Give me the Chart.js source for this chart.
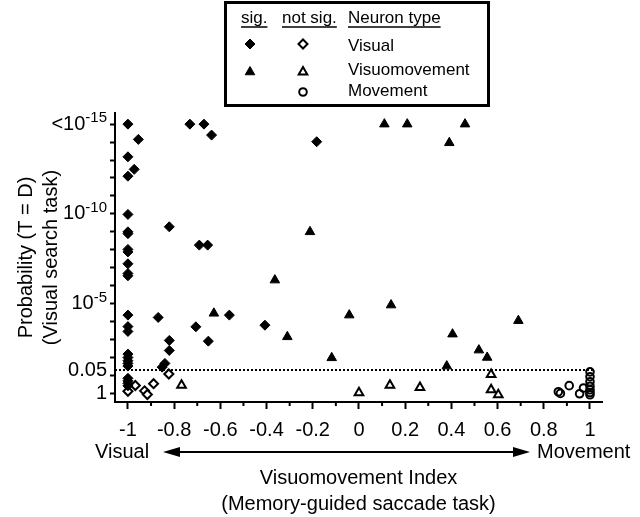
<!DOCTYPE html>
<html>
<head>
<meta charset="utf-8">
<script src="https://cdn.jsdelivr.net/npm/chart.js@4.4.0/dist/chart.umd.min.js"></script>
<style>
  body { margin: 0; background: #fff; }
</style>
</head>
<body>
<canvas id="mycanvas" width="640" height="517"></canvas>
<script>
// y values are -log10(p), capped at 15 (<10^-15)
var visualSig = [
  [-1, 15], [-1, 13.18], [-1, 12.1], [-1, 9.97], [-1, 9.0], [-1, 8.9], [-1, 8.02], [-1, 7.88],
  [-1, 7.22], [-1, 6.68], [-1, 6.55], [-1, 4.36], [-1, 3.72], [-1, 3.45], [-1, 2.19], [-1, 2.0],
  [-1, 1.82], [-1, 1.67], [-1, 1.52], [-1, 0.84], [-1, 0.7], [-1, 0.56], [-1, 0.42],
  [-0.955, 14.15], [-0.973, 12.48], [-0.821, 9.28], [-0.732, 15], [-0.671, 15], [-0.638, 14.39],
  [-0.691, 8.26], [-0.655, 8.26], [-0.183, 14.02], [-0.869, 4.23], [-0.821, 2.95], [-0.821, 2.39],
  [-0.84, 1.67], [-0.852, 1.46], [-0.706, 3.71], [-0.652, 2.91], [-0.561, 4.36], [-0.407, 3.8]
];
var visualNotSig = [[-1, 0.12], [-0.968, 0.44], [-0.928, 0.14], [-0.916, -0.06], [-0.889, 0.54], [-0.823, 1.08]];
var vmSig = [
  [0.11, 15], [0.209, 15], [0.459, 15], [0.391, 13.96], [-0.212, 9.0], [-0.628, 4.46], [-0.364, 6.31],
  [-0.31, 3.15], [-0.118, 1.98], [-0.042, 4.36], [0.139, 4.92], [0.405, 3.3], [0.38, 1.52],
  [0.519, 2.41], [0.555, 2.0], [0.69, 4.05]
];
var vmNotSig = [[-0.768, 0.46], [0, 0.03], [0.134, 0.46], [0.264, 0.33], [0.572, 1.05], [0.572, 0.2], [0.603, -0.08]];
var movementNotSig = [
  [0.863, 0.09], [0.872, 0.0], [0.91, 0.43], [0.955, -0.02], [0.972, 0.3],
  [1, 1.2], [1, 0.93], [1, 0.65], [1, 0.4], [1, 0.2], [1, 0.05], [1, -0.08]
];
var sigLevel = 0.05;

var xTickVals = [-1, -0.8, -0.6, -0.4, -0.2, 0, 0.2, 0.4, 0.6, 0.8, 1];
var xTickLabels = ['-1', '-0.8', '-0.6', '-0.4', '-0.2', '0', '0.2', '0.4', '0.6', '0.8', '1'];
var yTickVals = [15, 10, 5, -Math.log10(sigLevel), 0];
var yTickBase = ['<10', '10', '10', '0.05', '1'];
var yTickSup = ['-15', '-10', '-5', '', ''];

var FONT = '"Liberation Sans", Arial, sans-serif';
Chart.defaults.color = '#000';
Chart.defaults.font.family = FONT;

function pts(arr) {
  return arr.map(function (p) { return { x: p[0], y: p[1] }; });
}

var sigY = -Math.log10(sigLevel);

var extras = {
  id: 'extras',
  afterDraw: function (chart) {
    var ctx = chart.ctx;
    var xs = chart.scales.x, ys = chart.scales.y;
    ctx.save();
    ctx.fillStyle = '#000';
    ctx.strokeStyle = '#000';

    // minor x ticks
    ctx.lineWidth = 2;
    for (var i = 0; i < xTickVals.length - 1; i++) {
      var mx = xs.getPixelForValue((xTickVals[i] + xTickVals[i + 1]) / 2);
      ctx.beginPath();
      ctx.moveTo(mx, ys.bottom);
      ctx.lineTo(mx, ys.bottom + 4);
      ctx.stroke();
    }

    // y tick labels with superscripts
    ctx.textBaseline = 'middle';
    ctx.textAlign = 'right';
    var rx = ys.right - 8;
    for (var j = 0; j < yTickVals.length; j++) {
      var py = ys.getPixelForValue(yTickVals[j]);
      var supW = 0;
      if (yTickSup[j]) {
        ctx.font = '15px ' + FONT;
        supW = ctx.measureText(yTickSup[j]).width;
        ctx.fillText(yTickSup[j], rx, py - 6);
      }
      ctx.font = '20px ' + FONT;
      ctx.fillText(yTickBase[j], rx - supW, py);
    }

    // Visual <-> Movement arrow
    var ay = 452;
    ctx.font = '20px ' + FONT;
    ctx.textAlign = 'left';
    ctx.fillText('Visual', 95, ay);
    ctx.fillText('Movement', 537, ay);
    ctx.lineWidth = 2;
    ctx.beginPath();
    ctx.moveTo(170, ay);
    ctx.lineTo(522, ay);
    ctx.stroke();
    ctx.beginPath();
    ctx.moveTo(163, ay); ctx.lineTo(180, ay - 5); ctx.lineTo(180, ay + 5); ctx.closePath(); ctx.fill();
    ctx.beginPath();
    ctx.moveTo(530, ay); ctx.lineTo(513, ay - 5); ctx.lineTo(513, ay + 5); ctx.closePath(); ctx.fill();

    // legend box
    ctx.lineWidth = 3;
    ctx.strokeRect(225.5, 2.5, 263, 103);
    ctx.font = '17px ' + FONT;
    var heads = [['sig.', 241], ['not sig.', 282], ['Neuron type', 348]];
    ctx.lineWidth = 1.5;
    heads.forEach(function (h) {
      ctx.fillText(h[0], h[1], 18);
      var w = ctx.measureText(h[0]).width;
      ctx.beginPath();
      ctx.moveTo(h[1], 27);
      ctx.lineTo(h[1] + w, 27);
      ctx.stroke();
    });
    ctx.fillText('Visual', 348, 46);
    ctx.fillText('Visuomovement', 348, 70);
    ctx.fillText('Movement', 348, 91);

    function diamond(x, y, r, fill) {
      ctx.beginPath();
      ctx.moveTo(x - r, y); ctx.lineTo(x, y - r); ctx.lineTo(x + r, y); ctx.lineTo(x, y + r); ctx.closePath();
      if (fill) { ctx.fill(); ctx.lineWidth = 1; } else { ctx.lineWidth = 2; }
      ctx.stroke();
    }
    function triangle(x, y, r, fill) {
      ctx.beginPath();
      ctx.moveTo(x, y - r);
      ctx.lineTo(x + r * 0.866, y + r / 2);
      ctx.lineTo(x - r * 0.866, y + r / 2);
      ctx.closePath();
      if (fill) { ctx.fill(); ctx.lineWidth = 1; } else { ctx.lineWidth = 2; }
      ctx.stroke();
    }
    diamond(250, 44, 5, true);
    diamond(303, 44, 4.5, false);
    triangle(250, 72, 5.5, true);
    triangle(303, 72, 5, false);
    ctx.lineWidth = 2;
    ctx.beginPath();
    ctx.arc(303, 92, 3.8, 0, Math.PI * 2);
    ctx.stroke();

    ctx.restore();
  }
};

var ctx = document.getElementById('mycanvas');

var chart = new Chart(ctx, {
  type: 'scatter',
  data: {
    datasets: [
      {
        type: 'line',
        label: 'p = 0.05',
        data: [{ x: -1.056, y: sigY }, { x: 1.02, y: sigY }],
        borderColor: '#000',
        borderWidth: 2,
        borderDash: [2, 2],
        pointRadius: 0
      },
      {
        label: 'Visual sig.',
        data: pts(visualSig),
        pointStyle: 'rectRot',
        pointRadius: 5,
        backgroundColor: '#000',
        borderColor: '#000',
        borderWidth: 1
      },
      {
        label: 'Visual not sig.',
        data: pts(visualNotSig),
        pointStyle: 'rectRot',
        pointRadius: 4.5,
        backgroundColor: '#fff',
        borderColor: '#000',
        borderWidth: 2
      },
      {
        label: 'Visuomovement sig.',
        data: pts(vmSig),
        pointStyle: 'triangle',
        pointRadius: 5.5,
        backgroundColor: '#000',
        borderColor: '#000',
        borderWidth: 1
      },
      {
        label: 'Visuomovement not sig.',
        data: pts(vmNotSig),
        pointStyle: 'triangle',
        pointRadius: 5,
        backgroundColor: '#fff',
        borderColor: '#000',
        borderWidth: 2
      },
      {
        label: 'Movement not sig.',
        data: pts(movementNotSig),
        pointStyle: 'circle',
        pointRadius: 3.8,
        backgroundColor: 'rgba(255,255,255,0)',
        borderColor: '#000',
        borderWidth: 2
      }
    ]
  },
  options: {
    responsive: false,
    animation: false,
    clip: false,
    layout: { padding: { top: 113, right: 38, left: 0, bottom: 0 } },
    plugins: { legend: { display: false }, tooltip: { enabled: false } },
    scales: {
      x: {
        type: 'linear',
        min: -1.056,
        max: 1.052,
        afterBuildTicks: function (scale) {
          scale.ticks = xTickVals.map(function (v) { return { value: v }; });
        },
        afterFit: function (scale) { scale.height = 115; },
        ticks: {
          font: { size: 20 },
          padding: 9,
          maxRotation: 0,
          callback: function (v) {
            var k = xTickVals.indexOf(v);
            return k >= 0 ? xTickLabels[k] : '';
          }
        },
        grid: { drawOnChartArea: false, drawTicks: true, tickLength: 7, tickWidth: 2, tickColor: '#000' },
        border: { color: '#000', width: 2 },
        title: {
          display: true,
          text: ['Visuomovement Index', '(Memory-guided saccade task)'],
          font: { size: 20, lineHeight: 1.3 },
          padding: { top: 0, bottom: 0 }
        }
      },
      y: {
        type: 'linear',
        min: -0.48,
        max: 15.62,
        afterBuildTicks: function (scale) {
          var t = [];
          for (var v = 0; v <= 15; v++) t.push({ value: v });
          scale.ticks = t;
        },
        afterFit: function (scale) { scale.width = 115; },
        ticks: { callback: function () { return ''; } },
        grid: { drawOnChartArea: false, drawTicks: true, tickLength: 5, tickWidth: 2, tickColor: '#000' },
        border: { color: '#000', width: 2 },
        title: {
          display: true,
          text: ['Probability (T = D)', '(Visual search task)'],
          font: { size: 20, lineHeight: 1.25 },
          padding: { top: 14, bottom: 0 }
        }
      }
    }
  },
  plugins: [extras]
});
</script>
</body>
</html>
